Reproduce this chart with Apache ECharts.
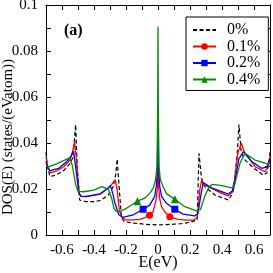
<!DOCTYPE html>
<html><head><meta charset="utf-8">
<script src="https://cdn.jsdelivr.net/npm/echarts@6/dist/echarts.min.js"></script>
<style>html,body{margin:0;padding:0;background:#fff}#c{width:273px;height:273px}</style>
</head><body><div id="c"></div>
<script>
const seriesNames = ['0%', '0.1%', '0.2%', '0.4%'];
const black = [[-0.7,0.036],[-0.692,0.030],[-0.675,0.0254],[-0.64,0.026],[-0.59,0.028],[-0.55,0.031],[-0.53,0.034],[-0.515,0.048],[-0.505,0.030],[-0.49,0.0152],[-0.45,0.0145],[-0.4,0.0145],[-0.36,0.015],[-0.31,0.0174],[-0.28,0.021],[-0.265,0.026],[-0.255,0.033],[-0.24,0.018],[-0.228,0.0075],[-0.21,0.0058],[-0.15,0.0052],[-0.1,0.0048],[-0.05,0.0045],[0,0.0044],[0.05,0.0045],[0.1,0.0047],[0.15,0.005],[0.2,0.0055],[0.245,0.0065],[0.25,0.02],[0.256,0.0355],[0.272,0.0246],[0.293,0.021],[0.356,0.0174],[0.44,0.0152],[0.46,0.0174],[0.48,0.025],[0.495,0.035],[0.506,0.048],[0.52,0.036],[0.544,0.0326],[0.6,0.029],[0.658,0.026],[0.68,0.027],[0.692,0.031],[0.7,0.036]];
const red = [[-0.7,0.034],[-0.69,0.030],[-0.67,0.027],[-0.63,0.028],[-0.59,0.0297],[-0.55,0.0326],[-0.535,0.036],[-0.521,0.0406],[-0.508,0.031],[-0.493,0.018],[-0.48,0.0167],[-0.43,0.017],[-0.36,0.018],[-0.3,0.021],[-0.268,0.024],[-0.256,0.02],[-0.242,0.011],[-0.225,0.0075],[-0.2,0.0066],[-0.15,0.0066],[-0.114,0.0068],[-0.08,0.0076],[-0.053,0.0086],[-0.031,0.0101],[-0.02,0.013],[-0.01,0.016],[-0.004,0.021],[0,0.032],[0.004,0.021],[0.01,0.016],[0.022,0.0123],[0.042,0.0101],[0.074,0.0079],[0.126,0.0068],[0.18,0.0065],[0.22,0.0065],[0.245,0.0075],[0.262,0.02],[0.272,0.0236],[0.29,0.0218],[0.314,0.021],[0.398,0.0181],[0.44,0.017],[0.47,0.019],[0.485,0.028],[0.5,0.036],[0.521,0.0399],[0.54,0.036],[0.564,0.034],[0.606,0.0297],[0.669,0.0275],[0.69,0.030],[0.7,0.034]];
const blue = [[-0.7,0.032],[-0.69,0.029],[-0.675,0.028],[-0.62,0.029],[-0.57,0.032],[-0.545,0.034],[-0.528,0.0365],[-0.51,0.027],[-0.495,0.0185],[-0.48,0.0168],[-0.45,0.0167],[-0.36,0.0178],[-0.31,0.0205],[-0.298,0.0215],[-0.282,0.018],[-0.27,0.014],[-0.245,0.0088],[-0.22,0.0077],[-0.156,0.0087],[-0.093,0.0112],[-0.052,0.013],[-0.021,0.0167],[-0.01,0.0215],[-0.004,0.03],[0,0.0522],[0.004,0.03],[0.01,0.0215],[0.022,0.0168],[0.053,0.0138],[0.105,0.0112],[0.157,0.0091],[0.23,0.0083],[0.25,0.0095],[0.265,0.016],[0.282,0.0228],[0.335,0.0205],[0.439,0.0178],[0.47,0.0195],[0.49,0.027],[0.505,0.033],[0.533,0.0362],[0.586,0.0319],[0.648,0.029],[0.68,0.0295],[0.7,0.033]];
const green = [[-0.7,0.0298],[-0.68,0.0297],[-0.63,0.031],[-0.57,0.033],[-0.55,0.0335],[-0.535,0.030],[-0.515,0.022],[-0.5,0.019],[-0.465,0.0188],[-0.4,0.0195],[-0.35,0.021],[-0.31,0.0198],[-0.29,0.016],[-0.275,0.0115],[-0.26,0.0103],[-0.24,0.0102],[-0.198,0.0116],[-0.128,0.0147],[-0.083,0.016],[-0.052,0.0181],[-0.03,0.0203],[-0.015,0.024],[-0.006,0.03],[-0.002,0.055],[0,0.0906],[0.002,0.055],[0.006,0.03],[0.015,0.024],[0.032,0.021],[0.053,0.018],[0.105,0.0155],[0.168,0.0123],[0.24,0.0105],[0.265,0.011],[0.293,0.017],[0.32,0.021],[0.34,0.022],[0.4,0.0215],[0.46,0.0205],[0.48,0.022],[0.512,0.0312],[0.544,0.0355],[0.606,0.0326],[0.68,0.031],[0.7,0.031]];
const redMarks = [-0.053, 0.074];
const blueMarks = [-0.093, 0.105];
const greenMarks = [-0.128, 0.105];
const xTicks = [-0.6, -0.4, -0.2, 0, 0.2, 0.4, 0.6];
const yTicks = [0, 0.02, 0.04, 0.06, 0.08, 0.1];
const xTitle = 'E(eV)';
const yTitle = 'DOS(E) (states/(eVatom))';
const panelLabel = '(a)';

const FONT = 'Liberation Serif';
function inList(list, v) { return list.some(t => Math.abs(t - v) < 1e-6); }
function xFmt(v) { return inList(xTicks, v) ? String(parseFloat(v.toFixed(1))) : ''; }
function yFmt(v) { return inList(yTicks, v) ? String(parseFloat(v.toFixed(2))) : ''; }

const tickStyle = { show: true, inside: true, length: 5, lineStyle: { color: '#000', width: 1 } };
const lineAx = { show: true, onZero: false, lineStyle: { color: '#000', width: 1 } };

function mk(name, data, color, symbol, marks, size) {
  return {
    name, type: 'line', data, xAxisIndex: 0, yAxisIndex: 0,
    symbol, showSymbol: true, showAllSymbol: true,
    symbolSize: (val) => inList(marks, val[0]) ? size : 0,
    lineStyle: { color, width: 1.3 }, itemStyle: { color },
    emphasis: { disabled: true }, z: 3
  };
}

const chart = echarts.init(document.getElementById('c'), null, { renderer: 'canvas' });
chart.setOption({
  animation: false,
  backgroundColor: '#fff',
  grid: { left: 46, right: 3, top: 5, bottom: 38, containLabel: false, outerBoundsMode: 'none' },
  xAxis: [{
    type: 'value', position: 'bottom', min: -0.7, max: 0.7, interval: 0.1,
    axisLine: lineAx, axisTick: tickStyle, splitLine: { show: false },
    axisLabel: { formatter: xFmt, fontFamily: FONT, fontSize: 15, color: '#000', margin: 8 },
    name: xTitle, nameLocation: 'middle', nameGap: 20, nameMoveOverlap: false,
    nameTextStyle: { fontFamily: FONT, fontSize: 16, color: '#000' }
  }, {
    type: 'value', position: 'top', min: -0.7, max: 0.7, interval: 0.1,
    axisLine: lineAx, axisTick: tickStyle, splitLine: { show: false }, axisLabel: { show: false }
  }],
  yAxis: [{
    type: 'value', position: 'left', min: 0, max: 0.1, interval: 0.01,
    axisLine: lineAx, axisTick: tickStyle, splitLine: { show: false },
    axisLabel: { formatter: yFmt, fontFamily: FONT, fontSize: 15, color: '#000', margin: 8 }
  }, {
    type: 'value', position: 'right', min: 0, max: 0.1, interval: 0.01,
    axisLine: lineAx, axisTick: tickStyle, splitLine: { show: false }, axisLabel: { show: false }
  }],
  legend: {
    orient: 'vertical', left: 186, top: 17,
    backgroundColor: '#fff', borderColor: '#000', borderWidth: 1,
    padding: [5, 8, 3, 6], itemWidth: 23, itemHeight: 8, itemGap: 0.5,
    textStyle: { fontFamily: FONT, fontSize: 16, color: '#000', padding: [0, 0, 0, 6] },
    data: [
      { name: seriesNames[0], itemStyle: { opacity: 0 } },
      seriesNames[1], seriesNames[2], seriesNames[3]
    ]
  },
  graphic: [{
    type: 'text', left: 64, top: 23,
    style: { text: panelLabel, font: 'bold 16px "Liberation Serif"', fill: '#000' }
  }, {
    type: 'text', x: 8, y: 137, rotation: Math.PI / 2,
    style: { text: yTitle, font: '15px "Liberation Serif"', fill: '#000', align: 'center', verticalAlign: 'middle' }
  }],
  series: [
    {
      name: seriesNames[0], type: 'line', data: black, symbol: 'none', showSymbol: false,
      lineStyle: { color: '#000', width: 1.2, type: [4, 2.5] }, itemStyle: { color: '#000' },
      emphasis: { disabled: true }, z: 2
    },
    mk(seriesNames[1], red, '#ff0000', 'circle', redMarks, 7),
    mk(seriesNames[2], blue, '#0000ff', 'rect', blueMarks, 7),
    mk(seriesNames[3], green, '#008b00', 'triangle', greenMarks, 8)
  ]
});
</script>
</body></html>
